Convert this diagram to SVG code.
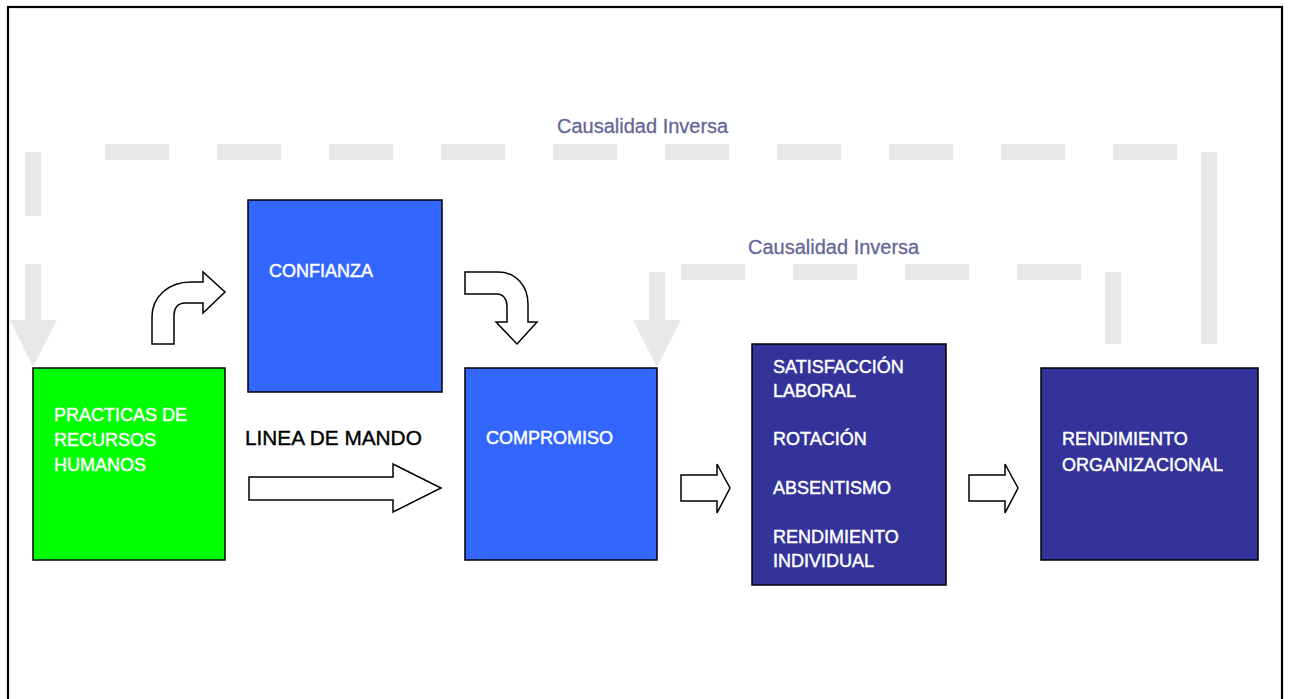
<svg xmlns="http://www.w3.org/2000/svg" width="1289" height="699" viewBox="0 0 1289 699">
  <style>
    .box { stroke: #000; stroke-width: 1.5; }
    .lbl { font-family: "Liberation Sans", Arial, sans-serif; font-size: 18px; fill: #fff; stroke: #fff; stroke-width: 0.45; }
    .cause { font-family: "Liberation Sans", Arial, sans-serif; font-size: 20px; fill: #666699; stroke: #666699; stroke-width: 0.3; }
    .dash { fill: #e8e8e8; }
    .flow { fill: #fff; stroke: #000; stroke-width: 1.5; stroke-linejoin: miter; }
  </style>

  <rect width="1289" height="699" fill="#fff"/>
  <!-- frame -->
  <rect x="8" y="7" width="1274" height="720" fill="none" stroke="#000" stroke-width="2.2"/>

  <!-- feedback loops (reverse causality) -->
  <g id="connectors">
    <g id="outer-loop" class="dash">
      <rect x="1201" y="152" width="16" height="192"/>
      <rect x="105" y="144" width="64" height="16"/>
      <rect x="217" y="144" width="64" height="16"/>
      <rect x="329" y="144" width="64" height="16"/>
      <rect x="441" y="144" width="64" height="16"/>
      <rect x="553" y="144" width="64" height="16"/>
      <rect x="665" y="144" width="64" height="16"/>
      <rect x="777" y="144" width="64" height="16"/>
      <rect x="889" y="144" width="64" height="16"/>
      <rect x="1001" y="144" width="64" height="16"/>
      <rect x="1113" y="144" width="64" height="16"/>
      <rect x="25" y="152" width="16" height="64"/>
      <rect x="25" y="264" width="16" height="57"/>
      <polygon points="10,320 57,320 33,367"/>
    </g>
    <g id="inner-loop" class="dash">
      <rect x="1105" y="272" width="16" height="72"/>
      <rect x="681" y="264" width="64" height="16"/>
      <rect x="793" y="264" width="64" height="16"/>
      <rect x="905" y="264" width="64" height="16"/>
      <rect x="1017" y="264" width="64" height="16"/>
      <rect x="649" y="272" width="16" height="49"/>
      <polygon points="633,320 681,320 657,367"/>
    </g>
    <text class="cause" x="557" y="133">Causalidad Inversa</text>
    <text class="cause" x="748" y="254">Causalidad Inversa</text>

    <!-- forward flow arrows -->
    <path class="flow" d="M152,344 L152,317 C152,297 168,282 191,282 L203,282 L203,272 L225,292 L203,313 L203,303 L185,303 C178,303 174,308 174,315 L174,344 Z"/>
    <path class="flow" d="M465,272 L498,272 C516,272 528,286 528,304 L528,322 L537,322 L517,344 L496,322 L507,322 L507,306 C507,299 503,294 497,294 L465,294 Z"/>
    <polygon class="flow" points="249,477 393,477 393,464 441,488 393,512 393,500 249,500"/>
    <polygon class="flow" points="681,475 717,475 717,464 730,488 717,513 717,501 681,501"/>
    <polygon class="flow" points="969,475 1005,475 1005,464 1018,488 1005,513 1005,501 969,501"/>
    <text x="245" y="445" font-family="Liberation Sans, Arial, sans-serif" font-size="20.8" fill="#000" stroke="#000" stroke-width="0.4">LINEA DE MANDO</text>
  </g>

  <g id="practicas">
    <rect class="box" x="33" y="368" width="192" height="192" fill="#00ff00"/>
    <text class="lbl" x="54" y="421">PRACTICAS DE</text>
    <text class="lbl" x="54" y="446">RECURSOS</text>
    <text class="lbl" x="54" y="471">HUMANOS</text>
  </g>

  <g id="confianza">
    <rect class="box" x="248" y="200" width="194" height="192" fill="#3366ff"/>
    <text class="lbl" x="269" y="277">CONFIANZA</text>
  </g>

  <g id="compromiso">
    <rect class="box" x="465" y="368" width="192" height="192" fill="#3366ff"/>
    <text class="lbl" x="486" y="444">COMPROMISO</text>
  </g>

  <g id="resultados">
    <rect class="box" x="752" y="344" width="194" height="241" fill="#333399"/>
    <text class="lbl" x="773" y="373">SATISFACCIÓN</text>
    <text class="lbl" x="773" y="397">LABORAL</text>
    <text class="lbl" x="773" y="445">ROTACIÓN</text>
    <text class="lbl" x="773" y="494">ABSENTISMO</text>
    <text class="lbl" x="773" y="543">RENDIMIENTO</text>
    <text class="lbl" x="773" y="567">INDIVIDUAL</text>
  </g>

  <g id="rendimiento-organizacional">
    <rect class="box" x="1041" y="368" width="217" height="192" fill="#333399"/>
    <text class="lbl" x="1062" y="445" font-size="17.5">RENDIMIENTO</text>
    <text class="lbl" x="1062" y="471" font-size="17.5">ORGANIZACIONAL</text>
  </g>
</svg>
